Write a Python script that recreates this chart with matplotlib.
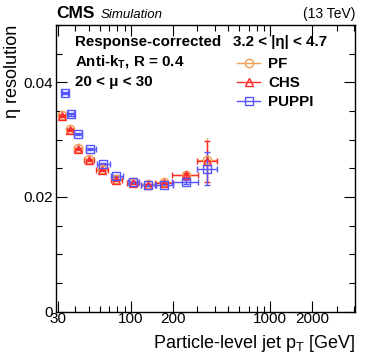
import matplotlib
matplotlib.use("Agg")
import matplotlib.pyplot as plt
from matplotlib.lines import Line2D
from matplotlib.ticker import FixedLocator, NullFormatter, MultipleLocator

plt.rcParams['font.family'] = ['Liberation Sans', 'DejaVu Sans']
plt.rcParams['mathtext.fontset'] = 'custom'
plt.rcParams['mathtext.rm'] = 'Liberation Sans'
plt.rcParams['mathtext.it'] = 'Liberation Sans:italic'
plt.rcParams['mathtext.bf'] = 'Liberation Sans:bold'

# Data
pt_pf = [32.1, 36.5, 41.6, 50.0, 61.7, 78.7, 102.7, 133.0, 174.0, 249.0, 351.0]
res_pf = [0.0343, 0.0319, 0.0285, 0.0267, 0.0249, 0.0232, 0.0226, 0.0223, 0.0226, 0.0239, 0.0265]
yerr_pf = [0.0002, 0.0002, 0.0002, 0.0002, 0.0002, 0.0002, 0.0002, 0.0002, 0.0002, 0.0004, 0.0037]

pt_chs = [32.1, 36.5, 41.6, 50.0, 61.7, 78.7, 102.7, 133.0, 174.0, 249.0, 351.0]
res_chs = [0.0341, 0.0317, 0.0283, 0.0265, 0.0247, 0.0230, 0.0224, 0.0221, 0.0225, 0.0238, 0.0262]
yerr_chs = [0.0002, 0.0002, 0.0002, 0.0002, 0.0002, 0.0002, 0.0002, 0.0002, 0.0002, 0.0004, 0.0036]

pt_puppi = [33.4, 36.9, 41.6, 50.6, 63.1, 78.7, 104.0, 133.0, 174.0, 249.0, 351.0]
res_puppi = [0.0381, 0.0344, 0.0310, 0.0284, 0.0258, 0.0236, 0.0226, 0.0221, 0.0221, 0.0226, 0.0249]
yerr_puppi = [0.0002, 0.0002, 0.0002, 0.0002, 0.0002, 0.0002, 0.0002, 0.0002, 0.0002, 0.0004, 0.0029]

xlo_chs = [1.5, 1.8, 2.7, 4.3, 5.5, 7.2, 9.4, 15.6, 24.2, 50.8, 55.0]
xhi_chs = [1.6, 1.9, 2.9, 4.6, 6.2, 8.1, 10.6, 17.7, 24.7, 51.5, 61.6]
xlo_puppi = [1.6, 1.8, 2.7, 3.3, 5.7, 7.0, 9.5, 15.6, 24.2, 50.8, 55.0]
xhi_puppi = [1.7, 1.9, 2.9, 5.3, 7.4, 8.3, 10.9, 17.7, 24.7, 51.5, 61.6]

c_pf = '#f0a050'
c_chs = '#ff2a2a'
c_puppi = '#5555ff'

fig = plt.figure(figsize=(3.74, 3.59), dpi=100)
ax = fig.add_axes([56 / 374, 1 - 311.5 / 359, 299 / 374, 286.5 / 359])

ax.errorbar(pt_pf, res_pf, yerr=yerr_pf, xerr=[xlo_chs, xhi_chs], fmt='o', mfc='none',
            mec=c_pf, ecolor=c_pf, ms=6, mew=1.0, elinewidth=1.0, capsize=0)
ax.errorbar(pt_chs, res_chs, yerr=yerr_chs, xerr=[xlo_chs, xhi_chs], fmt='^', mfc='none',
            mec=c_chs, ecolor=c_chs, ms=6, mew=1.0, elinewidth=1.0, capsize=2,
            capthick=1.0)
ax.errorbar(pt_puppi, res_puppi, yerr=yerr_puppi, xerr=[xlo_puppi, xhi_puppi], fmt='s',
            mfc='none', mec=c_puppi, ecolor=c_puppi, ms=5.3, mew=1.0, elinewidth=1.0,
            capsize=2, capthick=1.0)

ax.set_xscale('log')
ax.set_xlim(29, 4050)
ax.set_ylim(0, 0.05)

ax.xaxis.set_major_locator(FixedLocator([30, 100, 200, 1000, 2000]))
ax.xaxis.set_major_formatter(plt.FixedFormatter(['30', '100', '200', '1000', '2000']))
ax.xaxis.set_minor_locator(FixedLocator([40, 50, 60, 70, 80, 90, 300, 400, 500, 600,
                                         700, 800, 900, 3000, 4000]))
ax.xaxis.set_minor_formatter(NullFormatter())
ax.yaxis.set_major_locator(FixedLocator([0, 0.02, 0.04]))
ax.yaxis.set_major_formatter(plt.FixedFormatter(['0', '0.02', '0.04']))
ax.yaxis.set_minor_locator(MultipleLocator(0.005))

ax.tick_params(which='both', direction='in', top=True, right=True, labelsize=11, pad=2)
ax.tick_params(axis='x', which='both', pad=0.5)
ax.tick_params(which='major', length=8, width=0.8)
ax.tick_params(which='minor', length=4, width=0.8)
for s in ax.spines.values():
    s.set_linewidth(1.0)

ax.set_xlabel('Particle-level jet p$_{\\mathregular{T}}$ [GeV]', fontsize=13, loc='right',
              labelpad=5)
ax.set_ylabel('\u03b7 resolution', fontsize=13, loc='top', labelpad=2)

fig.text(56 / 374, 1 - 14 / 359, 'CMS', fontsize=12.5, fontweight='bold', va='center')
fig.text(101 / 374, 1 - 14.5 / 359, 'Simulation', fontsize=9.5, style='italic', va='center')
fig.text(355 / 374, 1 - 14 / 359, '(13 TeV)', fontsize=10, ha='right', va='center')

tx = 75 / 374
for i, s in enumerate(['Response-corrected', 'Anti-k$_{\\mathregular{T}}$, R = 0.4',
                       '20 < \u03bc < 30']):
    fig.text(tx, 1 - (42 + 20 * i) / 359, s, fontsize=10.9, fontweight='bold', va='center')
fig.text(233 / 374, 1 - 42 / 359, '3.2 < |\u03b7| < 4.7', fontsize=10.9, fontweight='bold',
         va='center')

handles = [
    Line2D([], [], color=c_pf, marker='o', mfc='none', ms=6, lw=1.0),
    Line2D([], [], color=c_chs, marker='^', mfc='none', ms=6, lw=1.0),
    Line2D([], [], color=c_puppi, marker='s', mfc='none', ms=5.3, lw=1.0),
]
leg = ax.legend(handles, ['PF', 'CHS', 'PUPPI'], loc='upper left',
                bbox_to_anchor=((237 - 56) / 299, 1 - 32 / 286.5),
                frameon=False, fontsize=10.9, handlelength=1.55, handletextpad=0.5,
                labelspacing=0.33, borderpad=0, borderaxespad=0)
for t in leg.get_texts():
    t.set_fontweight('bold')

fig.savefig('out.png', dpi=100)
